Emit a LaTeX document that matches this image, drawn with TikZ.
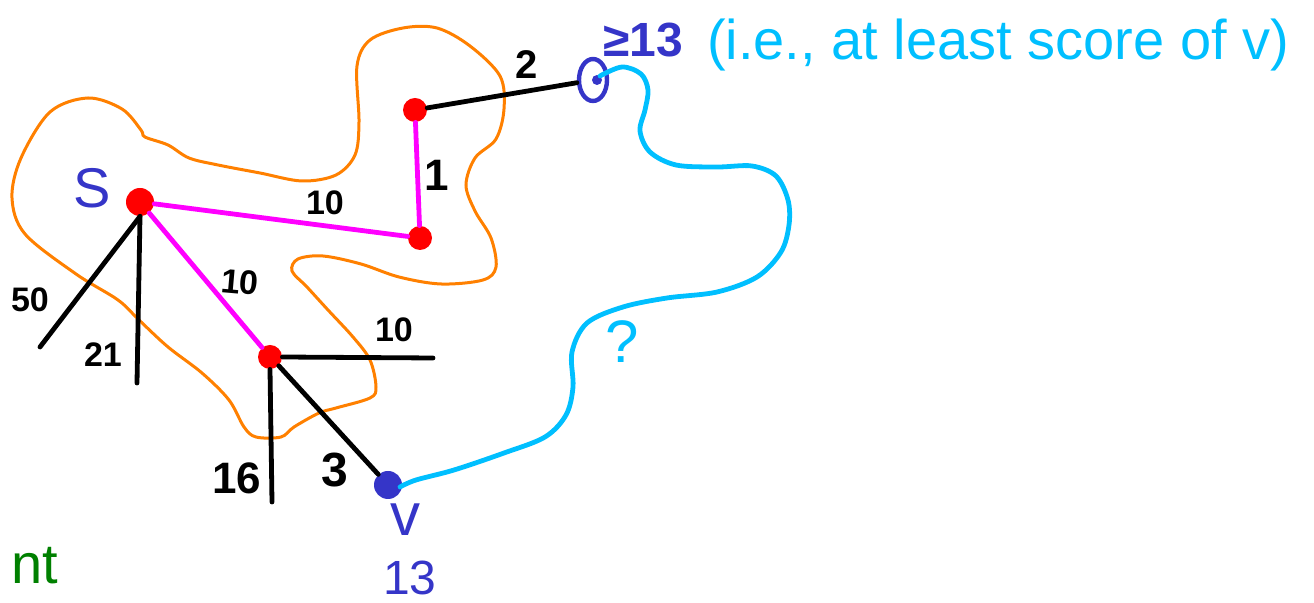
\documentclass[tikz,border=0pt]{standalone}
\usepackage{fontspec}
\setmainfont{Liberation Sans}
\usetikzlibrary{positioning,calc,shapes.geometric}

\definecolor{hotpink}{HTML}{FF00FF}
\definecolor{cutorange}{HTML}{FF8000}
\definecolor{sky}{HTML}{00BFFF}
\definecolor{ink}{HTML}{3535C8}
\definecolor{leafgreen}{HTML}{008000}

\begin{document}
\begin{tikzpicture}[
    x=0.5pt, y=-0.5pt,
    redpt/.style={circle, fill=red, inner sep=0pt, minimum size=12pt},
    bluept/.style={circle, fill=ink, inner sep=0pt, minimum size=14pt},
    ring/.style={ellipse, draw=ink, line width=2.2pt, inner sep=0pt,
                 minimum width=14pt, minimum height=21pt},
    tree/.style={draw=hotpink, line width=2.4pt, line cap=round},
    edge/.style={draw=black, line width=2.4pt, line cap=round},
    cutline/.style={draw=cutorange, line width=1.5pt},
    wlabel/.style={font=\fontsize{17}{20}\selectfont\bfseries},
    hand/.style={font=\fontsize{#1}{#1}\selectfont},
]
\useasboundingbox (0,0) rectangle (1314,603);
\clip (0,0) rectangle (1314,603);

% --- cut around the settled set ---
\draw[cutline] plot[smooth cycle, tension=0.55] coordinates {
  (88,98) (122,109) (141,130) (145,137) (168,145) (189,158) (218,165)
  (260,173) (302,181) (336,175) (355,155) (359,122) (357,66) (370,40)
  (403,28) (437,28) (470,46) (500,76) (504,109) (496,139) (475,158)
  (466,185) (475,211) (491,238) (496,267) (483,280) (441,284) (399,277)
  (361,264) (323,256) (298,259) (292,271) (307,287) (328,310) (353,337)
  (370,360) (376,387) (370,398) (336,408) (319,413) (294,427) (281,437)
  (256,437) (244,427) (229,400) (202,373) (168,347) (139,320) (118,300)
  (76,274) (25,234) (12,198) (21,158) (50,112)};

% --- vertices ---
\node[redpt, minimum size=14pt] (s) at (140,202) {};
\node[redpt] (a) at (415,110) {};
\node[redpt] (b) at (420,238) {};
\node[redpt] (c) at (270,357) {};
\node[bluept] (v) at (388,485) {};
\node[ring] (tgt) at (593,80) {};
\fill[ink] (597,80) circle (2.5pt);

% free ends of the other edges
\coordinate (s50) at (40,347);
\coordinate (s21) at (137,383);
\coordinate (c10) at (433,358);
\coordinate (c16) at (272,502);

% --- edges ---
\draw[edge] (a) -- (tgt);
\draw[edge] (s.south) -- (s50);
\draw[edge] (s.south) -- (s21);
\draw[edge] (c.east) -- (c10);
\draw[edge] (c.south) -- (c16);
\draw[edge] (c.south east) -- (v);
\draw[tree] (s) -- (b);
\draw[tree] (a) -- (b);
\draw[tree] (s) -- (c);

% path still unknown
\draw[sky, line width=2.4pt, line cap=round] plot[smooth, tension=0.55] coordinates {
  (600,76) (622,67) (641,74) (648,90) (645,110) (640,131) (650,152)
  (676,165) (717,167) (752,166) (776,176) (788,200) (789,225) (781,252)
  (757,277) (717,292) (667,298) (623,307) (587,323) (572,352) (573,387)
  (566,415) (545,437) (504,453) (454,470) (416,480) (400,487)};

% --- weights ---
\node[wlabel] (w10) at (325,203) {10};
\node[wlabel, font=\fontsize{22}{24}\selectfont\bfseries] (w1) at (437,175) {1};
\node[wlabel, font=\fontsize{20}{22}\selectfont\bfseries] (w2) at (527,65) {2};
\node[wlabel, rotate=-5] (w10b) at (240,282) {10};
\node[wlabel] (w50) at (30,300) {50};
\node[wlabel] (w21) at (103,355) {21};
\node[wlabel] (w10c) at (394,330) {10};
\node[wlabel, font=\fontsize{22}{24}\selectfont\bfseries] (w16) at (237,478) {16};
\node[wlabel, font=\fontsize{24}{26}\selectfont\bfseries] (w3) at (335,470) {3};

% --- names and notes ---
\node[hand=28, text=ink] (sname) at (92,188) {S};
\node[hand=30, text=ink] (vname) at (405,520) {v};
\node[hand=24, text=ink] (vscore) at (410,578) {13};
\node[hand=24, text=ink, font=\fontsize{24}{24}\selectfont\bfseries] (bound) at (643,40) {≥13};
\node[hand=28, text=sky, anchor=west] (note) at (700,45) {(i.e., at least score of v)};
\node[hand=30, text=sky] (qm) at (622,342) {?};
\node[hand=28, text=leafgreen, anchor=base west] (cut) at (4,584) {nt};

\end{tikzpicture}
\end{document}
